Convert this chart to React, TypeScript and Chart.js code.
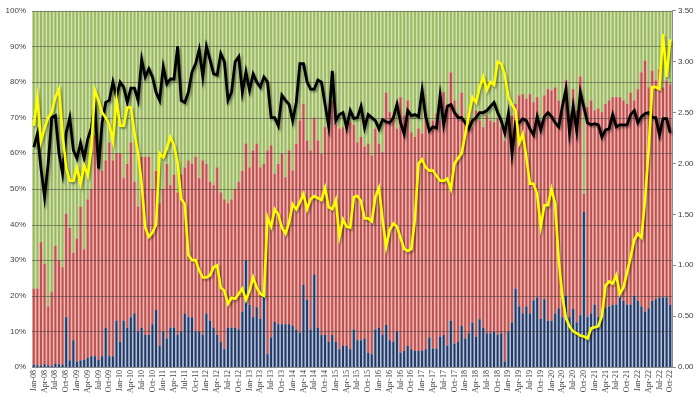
import React, { useEffect, useRef } from 'react';
import { Chart, registerables } from 'chart.js';

Chart.register(...registerables);

// ---- categories ----
const MONTHS = ['Jan', 'Feb', 'Mar', 'Apr', 'May', 'Jun', 'Jul', 'Aug', 'Sep', 'Oct', 'Nov', 'Dec'];
const YEARS = ['08', '09', '10', '11', '12', '13', '14', '15', '16', '17', '18', '19', '20', '21', '22'];
const N_MONTHS = 178;
const LABELS = YEARS.flatMap((y) => MONTHS.map((m) => `${m}-${y}`)).slice(0, N_MONTHS);

// ---- axis ticks ----
const PCT_TICKS = [0, 10, 20, 30, 40, 50, 60, 70, 80, 90, 100];

// ---- bottom (blue) share, % ----
const BLUE_SHARE = [
  0.7, 0.5, 0.4, 0.8, 0.5, 0.3, 0.9, 0.8, 0.6, 14, 1.8, 7.5,
  1.4, 1.8, 2.0, 2.5, 3.0, 3.0, 2.0, 3.0, 11, 3.0, 3.0, 13,
  7, 13, 11, 14, 15, 10, 11, 9, 9, 12, 16, 6,
  10, 8, 11, 11, 9, 10, 15, 14, 14, 10, 10, 9,
  15, 13, 11, 9, 7, 5, 11, 11, 11, 10.5, 15.5, 30,
  17.4, 14, 16.8, 13.5, 23, 3.6, 8.3, 12.6, 12, 12, 12, 12,
  11.5, 10.5, 9.6, 23, 18.8, 10.5, 26, 11, 9, 9, 7, 9,
  7, 5, 6, 6, 5, 10.5, 7.5, 7.5, 8, 4, 3.6, 10.5,
  11, 9, 11.8, 7.5, 7, 10, 4, 4.5, 6, 5, 4.5, 4.5,
  4.5, 5, 8.3, 5.2, 5.2, 8.5, 9, 6, 13, 6.5, 7, 11.5,
  8, 9.5, 12.5, 8.5, 13.4, 11, 9.5, 9.5, 9.8, 9, 9.5, 1.5,
  10, 12.5, 22, 17, 15, 17, 15, 18.7, 19.5, 13.5, 19, 13,
  13, 15, 16.5, 14, 20, 14, 16.3, 12.5, 14.5, 43.5, 14, 15,
  17.5, 14, 15.5, 16.5, 17, 17.5, 17.5, 19.5, 18.5, 17.5, 17.5, 20,
  18.5, 17, 15.5, 16.5, 18.5, 19, 19.5, 19.5, 19.5, 17.5,
];

// ---- top of the red segment (blue + red), % ----
const BLUE_RED_LEVEL = [
  22, 22, 35, 29, 17, 21, 34, 30, 28, 43, 39, 32,
  36, 45, 33, 47, 50, 65, 59, 55, 58, 63, 58, 60,
  60, 53, 57, 63, 52, 45, 59, 59, 59, 50, 55, 46,
  50, 57, 51, 54, 49, 54, 56, 58, 57, 59, 53, 58,
  57, 52, 51, 56, 49, 47, 46, 47, 50, 52, 55, 62.7,
  56, 60.8, 62.7, 56, 57, 60.8, 62.2, 54.2, 57, 59.8, 53.3, 60.8,
  55.2, 62.7, 69.2, 73.8, 63.6, 60.8, 70, 63.6, 59.8, 67.3, 71.1, 74.8,
  68.3, 66.9, 67.3, 66.4, 68.7, 68, 63, 64.6, 61.8, 62.7, 59.4, 66.9,
  62.7, 60.3, 77, 71.5, 69.6, 66.9, 75.7, 70.6, 74.8, 65.9, 64.6, 66.9,
  65.5, 71.1, 66.9, 69.2, 71.1, 69.2, 77.1, 73.8, 82.7, 74.8, 71, 77,
  68.7, 72, 67.3, 72, 69.2, 67.3, 70.6, 69.2, 68.7, 69.7, 67.3, 63.6,
  67.3, 70.6, 73.8, 76.2, 76.6, 75.3, 76.6, 74.3, 75.7, 69.2, 76.2, 78,
  77.6, 78.5, 74.8, 71.5, 80.4, 71.1, 78, 72, 81.5, 48.6, 72.9, 74.8,
  72, 72.5, 71.5, 73.8, 74.8, 75.7, 75.7, 75.7, 74.8, 73.8, 77, 74.8,
  78, 82.7, 86, 78.5, 83.2, 80.4, 83.6, 78.5, 80.4, 79.4,
];

// ---- black line (right axis) ----
const BLACK_LINE = [
  2.16, 2.29, 1.95, 1.67, 2.0, 2.45, 2.47, 2.1, 1.9, 2.3, 2.45, 2.13,
  2.05, 2.2, 2.05, 2.24, 2.35, 2.58, 1.95, 2.4, 2.6, 2.62, 2.8, 2.65,
  2.8, 2.75, 2.6, 2.74, 2.74, 2.62, 3.02, 2.85, 2.93, 2.85, 2.7, 2.62,
  2.95, 2.78, 2.83, 2.83, 3.15, 2.62, 2.6, 2.7, 2.9, 2.98, 3.12, 2.85,
  3.15, 3.02, 2.88, 2.87, 3.08, 3.0, 2.62, 2.7, 3.0, 3.05, 2.7, 2.9,
  2.72, 2.88, 2.8, 2.75, 2.85, 2.8, 2.45, 2.45, 2.37, 2.67, 2.62, 2.58,
  2.42, 2.6, 2.98, 2.98, 2.8, 2.73, 2.73, 2.82, 2.8, 2.58, 2.37, 2.91,
  2.42, 2.48, 2.5, 2.35, 2.52, 2.44, 2.45, 2.56, 2.35, 2.48, 2.45, 2.42,
  2.34, 2.43, 2.41, 2.4, 2.45, 2.58, 2.4, 2.29, 2.52, 2.47, 2.48, 2.46,
  2.72, 2.46, 2.32, 2.36, 2.35, 2.67, 2.38, 2.56, 2.58, 2.5, 2.45, 2.45,
  2.4, 2.34, 2.42, 2.45, 2.5, 2.5, 2.52, 2.56, 2.6, 2.5, 2.42, 2.3,
  2.49, 2.1, 2.41, 2.4, 2.44, 2.42, 2.34, 2.28, 2.46, 2.33, 2.46, 2.5,
  2.46, 2.4, 2.36, 2.56, 2.73, 2.3, 2.56, 2.32, 2.7, 2.55, 2.4, 2.38,
  2.39, 2.38, 2.26, 2.33, 2.34, 2.48, 2.36, 2.38, 2.38, 2.38, 2.48, 2.52,
  2.4, 2.46, 2.49, 2.5, 2.45, 2.45, 2.28, 2.44, 2.44, 2.3,
];

// ---- yellow line (right axis) ----
const YELLOW_LINE = [
  2.37, 2.65, 2.22, 2.35, 2.45, 2.5, 2.65, 2.73, 2.3, 1.95, 1.83, 1.83,
  1.96, 1.8, 1.98, 1.88, 2.15, 2.72, 2.62, 2.5, 2.45, 2.38, 2.22, 2.63,
  2.37, 2.37, 2.55, 2.55, 2.3, 2.1, 1.8, 1.37, 1.28, 1.32, 1.4, 2.1,
  2.06, 2.15, 2.26, 2.18, 2.0, 1.65, 1.6, 1.1, 1.05, 1.05, 0.95, 0.88,
  0.88, 0.9, 0.98, 1.0, 0.78, 0.75, 0.62, 0.68, 0.67, 0.72, 0.77, 0.66,
  0.75, 0.88, 0.78, 0.72, 0.7, 1.47, 1.38, 1.55, 1.5, 1.37, 1.31, 1.42,
  1.6, 1.55, 1.62, 1.7, 1.55, 1.65, 1.68, 1.66, 1.64, 1.76, 1.57, 1.55,
  1.64, 1.28, 1.45, 1.38, 1.37, 1.67, 1.68, 1.63, 1.46, 1.46, 1.43, 1.67,
  1.76, 1.45, 1.18, 1.35, 1.41, 1.38, 1.27, 1.16, 1.14, 1.16, 1.45, 2.0,
  2.04, 1.96, 1.93, 1.93, 1.88, 1.83, 1.83, 1.85, 1.75, 2.0, 2.05, 2.1,
  2.29, 2.47, 2.65, 2.6, 2.75, 2.85, 2.72, 2.8, 2.77, 3.0, 2.98, 2.87,
  2.65, 2.58, 2.52, 2.2, 2.29, 2.06, 1.8, 1.8, 1.7, 1.38, 1.59, 1.59,
  1.75, 1.6, 1.05, 0.7, 0.48, 0.4, 0.35, 0.33, 0.31, 0.3, 0.28, 0.38,
  0.39, 0.4, 0.5, 0.8, 0.84, 0.82, 0.9, 0.72, 0.78, 0.93, 1.08, 1.25,
  1.31, 1.27, 1.64, 2.13, 2.75, 2.75, 2.73, 3.27, 2.85, 3.22,
];

const RED_SHARE = BLUE_RED_LEVEL.map((v, i) => v - BLUE_SHARE[i]);
const GREEN_SHARE = BLUE_RED_LEVEL.map((v) => 100 - v);

// segments: [data, dark colour, light gap colour]
const SEGMENTS: [string, number[], string, string][] = [
  ['Blue', BLUE_SHARE, '#1f3a68', '#b9c2d4'],
  ['Red', RED_SHARE, '#c0504d', '#e9b8b6'],
  ['Green', GREEN_SHARE, '#9bbb59', '#d2dfbc'],
];

const overlayPlugin = {
  id: 'overlay',
  beforeDatasetsDraw(chart: any) {
    chart.$gridDone = false;
  },
  beforeDatasetDraw(chart: any, args: any) {
    const ds = chart.data.datasets[args.index];
    if (ds.type !== 'line') return;
    const { ctx, chartArea, scales } = chart;
    if (!chart.$gridDone) {
      chart.$gridDone = true;
      ctx.save();
      ctx.strokeStyle = 'rgba(60,60,60,0.5)';
      ctx.lineWidth = 1;
      PCT_TICKS.forEach((v) => {
        if (v === 0) return;
        const py = Math.round(scales.y.getPixelForValue(v)) + 0.5;
        ctx.beginPath();
        ctx.moveTo(chartArea.left, py);
        ctx.lineTo(chartArea.right, py);
        ctx.stroke();
      });
      ctx.restore();
    }
    ctx.save();
    ctx.shadowColor = 'rgba(0,0,0,0.35)';
    ctx.shadowOffsetX = 1.5;
    ctx.shadowOffsetY = 2;
    ctx.shadowBlur = 2;
  },
  afterDatasetDraw(chart: any, args: any) {
    const ds = chart.data.datasets[args.index];
    if (ds.type !== 'line') return;
    chart.ctx.restore();
  },
};

export default function App() {
  const ref = useRef<HTMLCanvasElement | null>(null);

  useEffect(() => {
    const canvas = ref.current;
    if (!canvas) return;

    const bgBars = SEGMENTS.map(([name, data, , light]) => ({
      type: 'bar',
      label: name + ' bg',
      data,
      yAxisID: 'y',
      stack: 'bg',
      grouped: false,
      backgroundColor: light,
      borderWidth: 0,
      categoryPercentage: 1,
      barPercentage: 1,
      order: 9,
    }));
    const fgBars = SEGMENTS.map(([name, data, dark]) => ({
      type: 'bar',
      label: name,
      data,
      yAxisID: 'y',
      stack: 'fg',
      grouped: false,
      backgroundColor: dark,
      borderWidth: 0,
      categoryPercentage: 1,
      barPercentage: 0.56,
      order: 6,
    }));

    const chart = new Chart(canvas, {
      type: 'bar',
      data: {
        labels: LABELS,
        datasets: [
          {
            type: 'line',
            label: 'Yellow',
            data: YELLOW_LINE,
            yAxisID: 'y1',
            borderColor: '#ffff00',
            borderWidth: 2.6,
            pointRadius: 0,
            tension: 0,
            order: 1,
          } as any,
          {
            type: 'line',
            label: 'Black',
            data: BLACK_LINE,
            yAxisID: 'y1',
            borderColor: '#000000',
            borderWidth: 2.8,
            pointRadius: 0,
            tension: 0,
            order: 2,
          } as any,
          ...(bgBars as any[]),
          ...(fgBars as any[]),
        ],
      },
      options: {
        responsive: false,
        animation: false,
        events: [],
        layout: { padding: { top: 10, left: 0, right: 0, bottom: 0 } },
        plugins: { legend: { display: false }, tooltip: { enabled: false } },
        scales: {
          x: {
            stacked: true,
            offset: true,
            grid: { display: false, drawTicks: false },
            border: { display: true, color: '#8c8c8c' },
            ticks: {
              autoSkip: false,
              maxRotation: 90,
              minRotation: 90,
              padding: 3,
              color: '#404040',
              font: { family: 'Liberation Serif', size: 8 },
              callback: (_v: any, i: number) => (i % 3 === 0 ? LABELS[i] : ''),
            },
            afterFit: (s: any) => {
              s.height = 27;
            },
          },
          y: {
            stacked: true,
            position: 'left',
            min: 0,
            max: 100,
            grid: { display: false, drawTicks: false },
            border: { display: false },
            ticks: {
              stepSize: 10,
              padding: 6,
              color: '#404040',
              font: { family: 'Liberation Sans', size: 8 },
              callback: (v: any) => `${v}%`,
            },
            afterFit: (s: any) => {
              s.width = 32;
            },
          },
          y1: {
            position: 'right',
            min: 0,
            max: 3.5,
            grid: { display: true, drawOnChartArea: false, drawTicks: true, tickLength: 4, color: '#8c8c8c' },
            border: { display: true, color: '#8c8c8c' },
            ticks: {
              stepSize: 0.5,
              padding: 2,
              color: '#404040',
              font: { family: 'Liberation Sans', size: 8 },
              callback: (v: any) => Number(v).toFixed(2),
            },
            afterFit: (s: any) => {
              s.width = 28;
            },
          },
        },
      },
      plugins: [overlayPlugin],
    });
    return () => chart.destroy();
  }, []);

  return (
    <div style={{ position: 'fixed', left: 0, top: 0, width: 700, height: 394, background: '#ffffff' }}>
      <canvas ref={ref} width={700} height={394} style={{ display: 'block', width: 700, height: 394 }} />
    </div>
  );
}
